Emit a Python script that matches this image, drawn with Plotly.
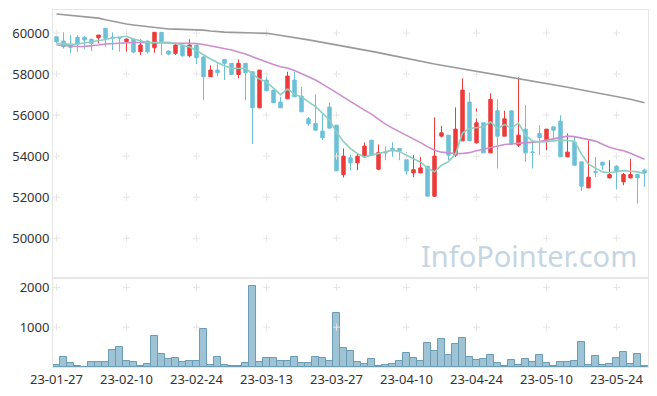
import plotly.graph_objects as go
from plotly.subplots import make_subplots

dates = [
    "23-01-27", "23-01-30", "23-01-31", "23-02-01", "23-02-02", "23-02-03", "23-02-06", "23-02-07", "23-02-08", "23-02-09",
    "23-02-10", "23-02-13", "23-02-14", "23-02-15", "23-02-16", "23-02-17", "23-02-20", "23-02-21", "23-02-22", "23-02-23",
    "23-02-24", "23-02-27", "23-02-28", "23-03-02", "23-03-03", "23-03-06", "23-03-07", "23-03-08", "23-03-09", "23-03-10",
    "23-03-13", "23-03-14", "23-03-15", "23-03-16", "23-03-17", "23-03-20", "23-03-21", "23-03-22", "23-03-23", "23-03-24",
    "23-03-27", "23-03-28", "23-03-29", "23-03-30", "23-03-31", "23-04-03", "23-04-04", "23-04-05", "23-04-06", "23-04-07",
    "23-04-10", "23-04-11", "23-04-12", "23-04-13", "23-04-14", "23-04-17", "23-04-18", "23-04-19", "23-04-20", "23-04-21",
    "23-04-24", "23-04-25", "23-04-26", "23-04-27", "23-04-28", "23-05-02", "23-05-03", "23-05-04", "23-05-08", "23-05-09",
    "23-05-10", "23-05-11", "23-05-12", "23-05-15", "23-05-16", "23-05-17", "23-05-18", "23-05-19", "23-05-22", "23-05-23",
    "23-05-24", "23-05-25", "23-05-26", "23-05-30", "23-05-31",
]

open_ = [59820, 59610, 59415, 59790, 59790, 59693, 59771, 60229, 59795, 59790,
         59576, 59693, 59088, 59610, 59283, 60034, 59122, 59010, 59415, 58893,
         59415, 58829, 57868, 58195, 58717, 58522, 57985, 58522, 58112, 56356,
         57707, 57220, 56634, 56795, 57707, 56927, 55820, 55595, 55220, 56390,
         55512, 53107, 53917, 53673, 53966, 54780, 53366, 54195, 54376, 54376,
         53829, 53185, 53185, 53512, 52049, 54976, 55024, 54049, 54746, 56634,
         54649, 55624, 54161, 56210, 54976, 56210, 54537, 55317, 54205, 55107,
         54746, 55429, 55707, 53966, 54683, 53722, 52454, 53244, 53707, 52941,
         53512, 52746, 52941, 53107, 53317]
close = [59576, 59332, 59302, 59463, 59659, 59488, 59902, 59741, 59766, 59756,
         59707, 59073, 59415, 59088, 60034, 59585, 58976, 59415, 58893, 59415,
         58795, 57868, 58195, 58063, 58522, 57985, 58522, 58063, 56356, 58195,
         57185, 56600, 56356, 57902, 56893, 56161, 55576, 55268, 54893, 55366,
         53283, 54000, 53673, 54000, 54488, 54049, 54181, 54161, 54259, 54244,
         53283, 53341, 53429, 52049, 54000, 55137, 54049, 55317, 57220, 54746,
         55624, 54161, 56766, 54976, 55820, 54585, 55024, 54161, 54185, 54912,
         55317, 55268, 53966, 54195, 53561, 52537, 52976, 53220, 53561, 53107,
         53268, 53107, 53107, 52941, 53185]
high = [59870, 60034, 59902, 59902, 59854, 59732, 59902, 60229, 60024, 59805,
        59732, 59707, 59693, 59634, 60034, 60034, 59146, 59498, 59415, 59693,
        59415, 58878, 58424, 58512, 58717, 58522, 58717, 58522, 58112, 58195,
        58063, 57220, 56893, 58112, 58112, 57380, 55902, 57010, 56098, 56620,
        55512, 54376, 54083, 54132, 54668, 54780, 54571, 54488, 54683, 54390,
        54195, 54049, 53966, 53512, 55888, 55478, 55024, 56376, 57790, 57107,
        56327, 55624, 57059, 56766, 56210, 56210, 57839, 56488, 54698, 55512,
        55317, 55429, 56000, 55107, 54942, 53722, 54780, 53966, 53707, 53805,
        53561, 53185, 53868, 53107, 53400]
low = [59498, 59244, 59010, 59088, 59220, 59122, 59498, 59317, 59171, 59088,
       59088, 59010, 58927, 59010, 59039, 58927, 58912, 58927, 58844, 58815,
       58488, 56732, 57868, 57902, 57707, 57951, 57790, 56732, 54585, 56356,
       57185, 56600, 56356, 56795, 56893, 56161, 55463, 55268, 54780, 55366,
       53283, 52961, 53317, 53317, 53966, 54049, 53317, 53805, 53966, 53805,
       53098, 52976, 53185, 52049, 52015, 54912, 53805, 53966, 54746, 54746,
       54610, 54161, 54146, 53400, 54976, 54585, 54454, 53722, 53400, 54049,
       54293, 54780, 53966, 53966, 53512, 52307, 52454, 52990, 53317, 52912,
       52376, 52585, 52912, 51693, 52502]

ma5 = [59498, 59463, 59449, 59463, 59512, 59561, 59610, 59683, 59756, 59805,
       59844, 59707, 59610, 59537, 59537, 59546, 59546, 59488, 59390, 59317,
       59146, 58927, 58732, 58561, 58390, 58293, 58268, 58293, 58000, 57756,
       57610, 57317, 57000, 57268, 57024, 56878, 56659, 56415, 56098, 55756,
       55171, 54707, 54366, 54122, 53966, 54049, 54146, 54244, 54293, 54220,
       54049, 53878, 53707, 53415, 53234, 53561, 53732, 54098, 55122, 55351,
       55390, 55429, 55673, 55351, 55537, 55366, 55610, 55024, 54732, 54698,
       54707, 54756, 54780, 54766, 54732, 54098, 53610, 53415, 53234, 53195,
       53244, 53293, 53268, 53234, 53156]
ma20 = [59415, 59380, 59341, 59341, 59351, 59376, 59415, 59463, 59488, 59512,
        59527, 59537, 59537, 59537, 59532, 59527, 59522, 59512, 59502, 59498,
        59488, 59439, 59376, 59317, 59244, 59171, 59073, 58976, 58839, 58707,
        58585, 58463, 58356, 58293, 58171, 58024, 57878, 57707, 57512, 57317,
        57098, 56878, 56659, 56439, 56244, 56049, 55805, 55561, 55366, 55195,
        55024, 54863, 54659, 54463, 54293, 54195, 54146, 54132, 54132, 54171,
        54268, 54341, 54415, 54512, 54571, 54600, 54624, 54644, 54659, 54707,
        54780, 54854, 54927, 54976, 54951, 54878, 54805, 54732, 54585, 54439,
        54341, 54268, 54146, 54000, 53854]
ma60 = [60927, 60893, 60859, 60824, 60790, 60756, 60727, 60649, 60576, 60507,
        60439, 60395, 60351, 60307, 60268, 60229, 60195, 60190, 60185, 60185,
        60180, 60141, 60102, 60063, 60044, 60034, 60024, 60015, 60005, 59995,
        59985, 59937, 59888, 59839, 59790, 59732, 59668, 59605, 59546, 59483,
        59420, 59361, 59302, 59244, 59185, 59117, 59044, 58971, 58898, 58820,
        58747, 58673, 58600, 58541, 58488, 58429, 58371, 58317, 58259, 58205,
        58146, 58083, 58024, 57961, 57902, 57834, 57776, 57717, 57659, 57605,
        57546, 57483, 57420, 57356, 57293, 57229, 57171, 57112, 57054, 56995,
        56937, 56854, 56776, 56688, 56600]

volume = [50, 240, 90, 25, 5, 115, 115, 115, 415, 490,
          140, 115, 25, 65, 790, 315, 190, 215, 115, 140,
          140, 965, 40, 240, 40, 15, 15, 90, 2025, 115,
          215, 215, 140, 140, 240, 90, 90, 240, 215, 140,
          1367, 467, 392, 117, 67, 192, 17, 42, 67, 142,
          342, 217, 142, 592, 392, 692, 292, 567, 717, 242,
          167, 192, 292, 92, 17, 167, 42, 192, 117, 292,
          92, 17, 117, 117, 142, 617, 42, 267, 42, 67,
          217, 367, 67, 317, 17]

x_ticks = dates[::10]
price_ticks = [50000, 52000, 54000, 56000, 58000, 60000]
price_labels = ["50000", "52000", "54000", "56000", "58000", "60000"]
volume_ticks = [1000, 2000]
volume_labels = ["1000", "2000"]

UP = "#ee3a3a"
DOWN = "#6cc0d7"
FONT = "Noto Sans"

fig = make_subplots(rows=2, cols=1, shared_xaxes=True, vertical_spacing=0,
                    row_heights=[268, 89])

cross = dict(symbol="cross-thin", size=5, line=dict(color="#e6e6e6", width=1))
cx = [d for d in x_ticks for _ in price_ticks]
cy = [p for _ in x_ticks for p in price_ticks]
fig.add_trace(go.Scatter(x=cx, y=cy, mode="markers", hoverinfo="skip", marker=cross), row=1, col=1)
vx = [d for d in x_ticks for _ in volume_ticks]
vy = [v for _ in x_ticks for v in volume_ticks]
fig.add_trace(go.Scatter(x=vx, y=vy, mode="markers", hoverinfo="skip", marker=cross), row=2, col=1)

fig.add_trace(go.Candlestick(
    x=dates, open=open_, high=high, low=low, close=close,
    increasing=dict(line=dict(color=UP, width=1), fillcolor=UP),
    decreasing=dict(line=dict(color=DOWN, width=1), fillcolor=DOWN),
    whiskerwidth=0,
), row=1, col=1)

fig.add_trace(go.Scatter(x=dates, y=ma60, mode="lines", line=dict(color="#9a9a9a", width=1.6)), row=1, col=1)
fig.add_trace(go.Scatter(x=dates, y=ma20, mode="lines", line=dict(color="#cc8ecc", width=1.6)), row=1, col=1)
fig.add_trace(go.Scatter(x=dates, y=ma5, mode="lines", line=dict(color="#8ccfc2", width=1.6)), row=1, col=1)

fig.add_trace(go.Bar(x=dates, y=volume, marker=dict(color="rgba(146,188,207,0.9)",
                                                    line=dict(color="#6a9db5", width=1))),
              row=2, col=1)

axis_common = dict(showline=True, linecolor="#e6e6e6", linewidth=1, mirror=True,
                   showgrid=False, zeroline=False, automargin=False,
                   tickfont=dict(family=FONT, size=13, color="#333333"))

fig.update_xaxes(type="category", categoryorder="array", categoryarray=dates,
                 range=[-0.5, 84.5], tickvals=x_ticks, ticktext=x_ticks,
                 rangeslider=dict(visible=False), ticks="", **axis_common)
fig.update_xaxes(showticklabels=False, row=1, col=1)
fig.update_yaxes(range=[48063, 61122], tickvals=price_ticks, ticktext=price_labels,
                 ticks="", **axis_common, row=1, col=1)
fig.update_yaxes(range=[0, 2235], tickvals=volume_ticks, ticktext=volume_labels,
                 ticks="", **axis_common, row=2, col=1)

fig.add_annotation(text="InfoPointer.com", xref="paper", yref="paper",
                   x=0.985, y=0.311, xanchor="right", yanchor="middle",
                   showarrow=False,
                   font=dict(family=FONT, size=29, color="#c5d6e2"))

# page body adds an 8px offset, margins compensate for it
fig.update_layout(width=657, height=396, margin=dict(l=45, r=17, t=2, b=37, autoexpand=False),
                  plot_bgcolor="white", paper_bgcolor="white", showlegend=False,
                  bargap=0, hovermode=False)

fig.write_html("out.html")
